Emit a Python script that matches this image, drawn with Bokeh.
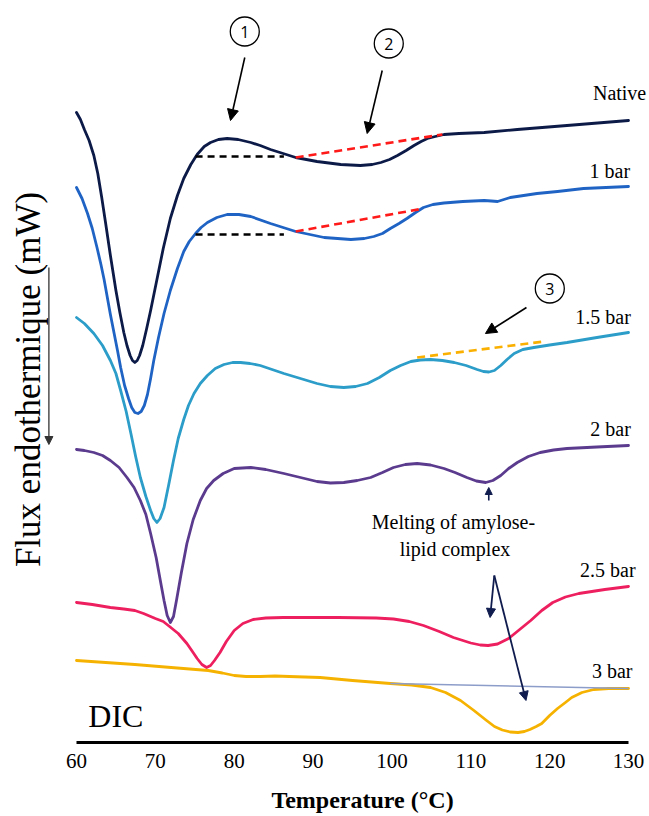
import math
from bokeh.plotting import figure
from bokeh.models import Range1d, Label, Arrow, NormalHead
from bokeh.core.properties import value
from bokeh.embed import file_html
from bokeh.resources import INLINE

# ---------------- data (flux as offsets in arbitrary units) ----------------
t_native = [60, 60.5, 61.0, 61.6, 62.2, 62.7, 63.2, 63.7, 64.3, 65.0, 65.5, 66.0, 66.4, 66.8, 67.1,
            67.4, 67.7, 68.0, 68.4, 68.9, 69.4, 70.2, 71.0, 71.9, 72.8, 73.6, 74.5, 75.3, 76.2,
            77.0, 78.0, 79.1, 80.5, 82.1, 83.3, 84.6, 86.2, 87.8, 90.5, 93.5, 96.0, 97.5, 98.6,
            99.7, 100.7, 101.8, 102.8, 103.7, 104.5, 105.5, 106.6, 108.5, 111.7, 115.9, 122.2, 130]
f_native = [63.0, 62.3, 61.3, 60.2, 58.7, 56.9, 54.5, 51.9, 48.7, 45.2, 43.0, 41.0, 39.7, 38.7, 38.2,
            38.0, 38.2, 38.7, 39.7, 41.4, 43.2, 46.3, 49.4, 52.4, 54.7, 56.4, 57.8, 58.8, 59.6,
            60.0, 60.3, 60.4, 60.3, 60.0, 59.7, 59.3, 58.9, 58.5, 58.1, 57.8, 57.7, 57.8, 58.0,
            58.3, 58.7, 59.2, 59.7, 60.1, 60.4, 60.6, 60.8, 60.9, 61.0, 61.3, 61.7, 62.2]

t_1bar = [60, 60.7, 61.4, 62.0, 62.6, 63.1, 63.5, 64.3, 65.2, 65.6, 66.1, 66.6, 67.0, 67.4, 67.8,
          68.2, 68.6, 69.0, 69.4, 69.8, 70.4, 71.1, 71.9, 72.8, 73.6, 74.3, 75.1, 75.8, 76.6,
          77.8, 79.1, 80.6, 82.1, 84.6, 87.8, 91.4, 94.8, 96.5, 97.7, 98.8, 99.8, 100.9, 101.9,
          103.0, 104.0, 105.2, 106.6, 109.0, 111.7, 112.6, 113.4, 114.2, 115.0, 116.7, 118.4,
          121.0, 124.3, 130]
f_1bar = [55.5, 54.4, 52.9, 51.4, 49.5, 47.8, 46.3, 42.8, 39.2, 37.5, 35.7, 34.4, 33.5, 33.0, 32.9,
          33.1, 33.7, 34.8, 36.4, 38.2, 40.5, 42.9, 45.2, 47.4, 49.1, 50.1, 50.9, 51.5, 52.0,
          52.5, 52.8, 52.8, 52.6, 51.9, 51.1, 50.5, 50.3, 50.4, 50.6, 50.9, 51.4, 51.9, 52.4,
          53.0, 53.5, 53.8, 53.95, 54.1, 54.2, 54.15, 54.1, 54.3, 54.5, 54.7, 54.9,
          55.1, 55.4, 55.6]

t_15bar = [60, 61.0, 62.2, 63.3, 64.3, 65.0, 65.6, 66.3, 66.9, 67.5, 68.1, 68.8, 69.4, 69.8, 70.2,
           70.6, 71.1, 71.7, 72.3, 72.9, 73.6, 74.2, 74.9, 75.7, 76.6, 77.6, 78.7, 79.8, 80.8,
           82.0, 83.3, 84.8, 86.3, 88.4, 90.5, 92.2, 93.9, 95.4, 96.9, 98.4, 99.8, 101.1, 102.4,
           103.6, 104.9, 106.4, 107.9, 109.4, 110.8, 111.6, 112.3, 113.0, 113.8, 114.6, 115.5,
           116.6, 118.0, 120.0, 122.2, 126.0, 130]
f_15bar = [42.5, 41.9, 40.9, 39.7, 38.2, 36.9, 35.2, 33.1, 30.9, 28.6, 26.5, 24.6, 23.2, 22.4, 22.0,
           22.4, 23.5, 25.8, 28.2, 30.4, 32.3, 33.7, 34.9, 35.9, 36.7, 37.4, 37.8, 38.0, 38.0,
           37.9, 37.7, 37.3, 36.9, 36.4, 35.9, 35.6, 35.5, 35.6, 35.9, 36.5, 37.2, 37.7, 38.1,
           38.25, 38.3, 38.2, 38.0, 37.7, 37.3, 37.1, 37.05, 37.2, 37.7, 38.3, 38.9,
           39.3, 39.5, 39.75, 40.0, 40.5, 41.0]

t_2bar = [60, 61.0, 62.2, 63.3, 64.3, 65.4, 66.4, 67.3, 68.1, 68.8, 69.4, 70.1, 70.7, 71.1, 71.5,
          71.9, 72.3, 72.7, 73.3, 74.0, 74.8, 75.7, 76.5, 77.4, 78.6, 80.0, 82.1, 84.0, 86.3,
          88.4, 90.5, 92.2, 93.9, 95.6, 97.3, 98.8, 100.2, 101.7, 103.2, 104.9, 106.6, 108.0,
          109.5, 110.7, 111.9, 112.8, 113.8, 114.8, 115.9, 117.3, 118.8, 120.5, 122.2, 126.0, 130]
f_2bar = [29.3, 29.2, 29.0, 28.7, 28.2, 27.5, 26.5, 25.5, 24.2, 22.8, 20.9, 18.5, 15.9, 14.2, 12.7,
          12.0, 12.6, 14.3, 17.0, 19.9, 22.3, 24.2, 25.4, 26.2, 26.9, 27.4, 27.5, 27.3, 26.9,
          26.5, 26.1, 25.95, 26.0, 26.2, 26.5, 27.0, 27.5, 27.8, 27.9, 27.75, 27.4, 27.0,
          26.5, 26.15, 26.0, 26.2, 26.7, 27.4, 28.0, 28.6, 29.0, 29.25, 29.4, 29.55, 29.7]

t_25bar = [60, 62.0, 64.3, 66.0, 67.4, 68.5, 70.0, 71.0, 71.8, 72.9, 74.0, 74.7, 75.3, 75.9, 76.5,
           77.0, 77.5, 78.2, 79.0, 80.0, 81.1, 82.4, 84.0, 86.2, 93.2, 98.0, 100.2, 102.2, 104.0,
           106.0, 107.8, 110.0, 111.2, 112.2, 113.4, 114.8, 116.2, 117.6, 119.0, 120.4, 122.0,
           123.7, 127.0, 130]
f_25bar = [14.0, 13.8, 13.5, 13.35, 13.2, 12.9, 12.4, 12.1, 11.6, 10.9, 9.9, 9.1, 8.4, 7.8, 7.5,
           7.7, 8.2, 9.0, 10.1, 11.2, 11.9, 12.3, 12.45, 12.5, 12.5, 12.45, 12.35, 12.1, 11.7,
           11.1, 10.5, 9.95, 9.75, 9.7, 9.85, 10.4, 11.3, 12.2, 13.2, 14.0, 14.55,
           14.9, 15.3, 15.6]

t_3bar = [60, 63.7, 67.4, 72.0, 76.7, 78.5, 80.0, 81.5, 83.3, 85.2, 87.0, 90.9, 95.0, 99.8, 102.5,
          104.9, 106.8, 108.7, 110.4, 112.0, 113.0, 114.0, 115.0, 116.0, 116.8, 117.5, 118.3,
          119.0, 120.0, 121.0, 122.0, 122.8, 124.1, 125.6, 127.5, 130]
f_3bar = [8.2, 8.0, 7.8, 7.5, 7.2, 6.95, 6.7, 6.6, 6.6, 6.65, 6.6, 6.5, 6.2, 5.9, 5.75,
          5.5, 5.0, 4.2, 3.2, 2.2, 1.6, 1.25, 1.05, 1.0, 1.1, 1.3, 1.6,
          1.9, 2.7, 3.4, 4.0, 4.5, 5.0, 5.3, 5.4, 5.4]

# tangents / baselines drawn on the curves
t_black_native = [75.1, 86.3]; f_black_native = [58.6, 58.6]
t_red_native = [87.8, 106.4];  f_red_native = [58.5, 60.8]
t_black_1bar = [75.1, 86.3];   f_black_1bar = [50.8, 50.8]
t_red_1bar = [87.8, 104.0];    f_red_1bar = [51.1, 53.4]
t_orange_15 = [103.2, 119.3];  f_orange_15 = [38.5, 40.1]
t_base_3bar = [99.8, 130.0];   f_base_3bar = [5.9, 5.4]

x_ticks = [60, 70, 80, 90, 100, 110, 120, 130]
x_tick_labels = ["60", "70", "80", "90", "100", "110", "120", "130"]

series = [
    ("Native", t_native, f_native, "#0c1a48"),
    ("1 bar", t_1bar, f_1bar, "#1f63c4"),
    ("1.5 bar", t_15bar, f_15bar, "#2b9dc8"),
    ("2 bar", t_2bar, f_2bar, "#5b3b8e"),
    ("2.5 bar", t_25bar, f_25bar, "#ee1f5f"),
    ("3 bar", t_3bar, f_3bar, "#f6b200"),
]
label_pos = {"Native": (132.25, 64.95), "1 bar": (130.2, 57.2), "1.5 bar": (130.3, 42.55),
             "2 bar": (130.3, 31.35), "2.5 bar": (130.9, 17.25), "3 bar": (130.5, 7.2)}

SERIF = "Liberation Serif"

# ---------------- figure (frame covers the whole canvas) ----------------
p = figure(width=649, height=816, output_backend="svg", toolbar_location=None,
           x_range=Range1d(50.363, 132.663), y_range=Range1d(-7.4, 74.2),
           min_border=0, min_border_left=0, min_border_right=0,
           min_border_top=0, min_border_bottom=0)
p.outline_line_color = None
p.xaxis.visible = False
p.yaxis.visible = False
p.xgrid.visible = False
p.ygrid.visible = False
p.background_fill_color = "white"
p.border_fill_color = "white"

# x axis drawn on the data scale
p.line([x_ticks[0], x_ticks[-1]], [0, 0], line_color="black", line_width=3)
p.text(x_ticks, [-1.85] * len(x_ticks), text=x_tick_labels, text_font=value(SERIF),
       text_font_size="21px", text_align="center", text_baseline="middle",
       text_color="black")
p.add_layout(Label(x=96.27, y=-5.75, text="Temperature (°C)", text_font=SERIF,
                   text_font_size="24px", text_font_style="bold", text_align="center",
                   text_baseline="middle", text_color="black"))

# y axis title with arrow
p.add_layout(Label(x=53.9, y=36.3, text="Flux endothermique (mW)", text_font=SERIF,
                   text_font_size="35px", angle=math.pi / 2, text_align="center",
                   text_baseline="middle", text_color="black"))
p.add_layout(Arrow(end=NormalHead(size=8, fill_color="#333333", line_color="#333333"),
                   x_start=56.5, y_start=47.5, x_end=56.5, y_end=29.8,
                   line_color="#333333", line_width=1.3))

# curves
for name, t, f, c in series:
    p.line(t, f, line_color=c, line_width=2.8, line_join="round", line_cap="round")

p.line(t_base_3bar, f_base_3bar, line_color="#8d9dc9", line_width=1.6)
p.line(t_black_native, f_black_native, line_color="black", line_width=2.6, line_dash="7 5")
p.line(t_black_1bar, f_black_1bar, line_color="black", line_width=2.6, line_dash="7 5")
p.line(t_red_native, f_red_native, line_color="#ff1a1a", line_width=2.6, line_dash="8 5")
p.line(t_red_1bar, f_red_1bar, line_color="#ff1a1a", line_width=2.6, line_dash="8 5")
p.line(t_orange_15, f_orange_15, line_color="#f9b000", line_width=2.6, line_dash="8 5")

for name, t, f, c in series:
    lx, ly = label_pos[name]
    p.add_layout(Label(x=lx, y=ly, text=name, text_font=SERIF, text_font_size="20px",
                       text_align="right", text_baseline="middle", text_color="black"))

# circled numbers
circ_x = [81.34, 99.6, 120.02]
circ_y = [71.1, 69.9, 45.4]
circ_t = ["1", "2", "3"]
p.scatter(circ_x, circ_y, marker="circle", size=29, fill_color="white", line_color="black",
          line_width=1.3)
p.text(circ_x, circ_y, text=circ_t, text_font=value("Open Sans"), text_font_size="16px",
       text_align="center", text_baseline="middle", text_color="black")


def arrow(x0, y0, x1, y1, color, size, lw):
    p.add_layout(Arrow(end=NormalHead(size=size, fill_color=color, line_color=color),
                       x_start=x0, y_start=y0, x_end=x1, y_end=y1,
                       line_color=color, line_width=lw))


arrow(81.34, 68.5, 79.53, 62.2, "black", 11, 1.6)
arrow(98.77, 67.2, 96.86, 60.9, "black", 11, 1.6)
arrow(117.06, 43.5, 111.86, 40.9, "black", 11, 1.6)
arrow(112.28, 24.2, 112.28, 25.5, "#101c4e", 7, 1.6)
arrow(112.98, 16.7, 112.45, 12.5, "#101c4e", 9, 1.8)
arrow(112.98, 16.7, 117.0, 4.2, "#101c4e", 9, 1.8)

p.add_layout(Label(x=107.8, y=22.1, text="Melting of amylose-", text_font=SERIF,
                   text_font_size="20px", text_align="center", text_baseline="middle",
                   text_color="black"))
p.add_layout(Label(x=108.0, y=19.35, text="lipid complex", text_font=SERIF,
                   text_font_size="20px", text_align="center", text_baseline="middle",
                   text_color="black"))
p.add_layout(Label(x=61.5, y=2.7, text="DIC", text_font=SERIF, text_font_size="32px",
                   text_align="left", text_baseline="middle", text_color="black"))

open("out.html", "w").write(file_html(p, INLINE))
